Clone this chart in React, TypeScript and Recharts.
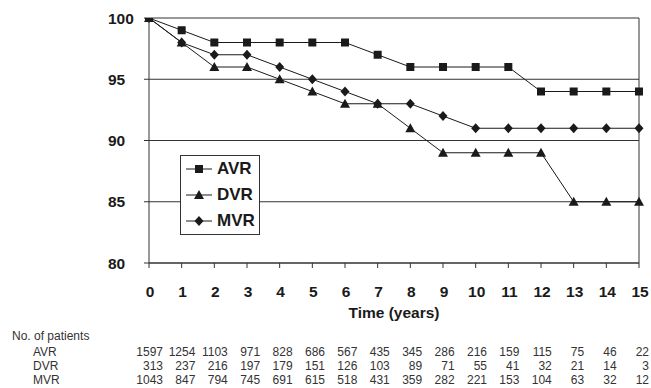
import React from 'react';
import { LineChart, Line, XAxis, YAxis, CartesianGrid, Legend, ReferenceLine } from 'recharts';

const years = [0, 1, 2, 3, 4, 5, 6, 7, 8, 9, 10, 11, 12, 13, 14, 15];
const avr = [100, 99, 98, 98, 98, 98, 98, 97, 96, 96, 96, 96, 94, 94, 94, 94];
const dvr = [100, 98, 96, 96, 95, 94, 93, 93, 91, 89, 89, 89, 89, 85, 85, 85];
const mvr = [100, 98, 97, 97, 96, 95, 94, 93, 93, 92, 91, 91, 91, 91, 91, 91];
const avrPatients = [1597, 1254, 1103, 971, 828, 686, 567, 435, 345, 286, 216, 159, 115, 75, 46, 22];
const dvrPatients = [313, 237, 216, 197, 179, 151, 126, 103, 89, 71, 55, 41, 32, 21, 14, 3];
const mvrPatients = [1043, 847, 794, 745, 691, 615, 518, 431, 359, 282, 221, 153, 104, 63, 32, 12];
const yTicks = [80, 85, 90, 95, 100];
const seriesNames = ['AVR', 'DVR', 'MVR'];
const rowLabels = ['AVR', 'DVR', 'MVR'];

const data = years.map((t, i) => ({ t, AVR: avr[i], DVR: dvr[i], MVR: mvr[i] }));
const patientRows = [avrPatients, dvrPatients, mvrPatients];

const FONT = '"Liberation Sans", Arial, sans-serif';
const INK = '#1a1a1a';

const Square = ({ cx, cy }: any) => <rect x={cx - 4} y={cy - 4} width={8} height={8} fill={INK} />;
const Triangle = ({ cx, cy }: any) => (
  <polygon points={`${cx},${cy - 5} ${cx + 5},${cy + 4} ${cx - 5},${cy + 4}`} fill={INK} />
);
const Diamond = ({ cx, cy }: any) => (
  <polygon points={`${cx},${cy - 5} ${cx + 4.5},${cy} ${cx},${cy + 5} ${cx - 4.5},${cy}`} fill={INK} />
);
const shapes: any = { AVR: Square, DVR: Triangle, MVR: Diamond };

const XTick = (props: any) => {
  const { x, y, payload, index } = props;
  return (
    <g>
      <text x={x + 1} y={y + 27} textAnchor="middle" fontFamily={FONT} fontWeight="bold" fontSize={15.5} fill={INK}>
        {payload.value}
      </text>
      {patientRows.map((row, r) => (
        <text
          key={r}
          x={x + 14 - (index * 4) / 15}
          y={y + 86 + r * 14}
          textAnchor="end"
          fontFamily={FONT}
          fontSize={12}
          fill="#333"
        >
          {row[index]}
        </text>
      ))}
    </g>
  );
};

const YTick = (props: any) => {
  const { x, y, payload } = props;
  return (
    <text x={x - 34} y={y + 5.5} textAnchor="start" fontFamily={FONT} fontWeight="bold" fontSize={15.5} fill={INK}>
      {payload.value}
    </text>
  );
};

const XLabel = (props: any) => {
  const vb = props.viewBox || { x: 149, y: 263, width: 490, height: 125 };
  return (
    <g>
      <text x={vb.x + vb.width / 2} y={vb.y + 55} textAnchor="middle" fontFamily={FONT} fontWeight="bold" fontSize={15.5} fill={INK}>
        Time (years)
      </text>
      <text x={vb.x - 137} y={vb.y + 77} fontFamily={FONT} fontSize={12} fill="#333">
        No. of patients
      </text>
      {rowLabels.map((l, r) => (
        <text key={l} x={vb.x - 116} y={vb.y + 93 + r * 14} fontFamily={FONT} fontSize={12} fill="#333">
          {l}
        </text>
      ))}
    </g>
  );
};

const LegendBox = () => (
  <div style={{ width: 78, height: 78, border: '1px solid #333', background: '#fff', boxSizing: 'content-box' }}>
    {seriesNames.map((n) => {
      const S = shapes[n];
      return (
        <div key={n} style={{ display: 'flex', alignItems: 'center', height: 26 }}>
          <svg width={36} height={26} style={{ display: 'block' }}>
            <line x1={5} y1={13} x2={31} y2={13} stroke={INK} strokeWidth={1} />
            <S cx={18} cy={13} />
          </svg>
          <span style={{ fontFamily: FONT, fontWeight: 'bold', fontSize: 17, color: INK, lineHeight: '26px' }}>{n}</span>
        </div>
      );
    })}
  </div>
);

export default function App() {
  return (
    <div style={{ position: 'absolute', left: 0, top: 0, width: 651, height: 388, background: '#fff' }}>
      <LineChart width={651} height={388} data={data} margin={{ top: 18, right: 12, bottom: 0, left: 0 }}>
        <CartesianGrid horizontal vertical={false} stroke="#333" strokeWidth={1} />
        <ReferenceLine x={15} stroke="#333" strokeWidth={1} ifOverflow="visible" />
        <XAxis
          dataKey="t"
          type="number"
          domain={[0, 15]}
          ticks={years}
          interval={0}
          height={125}
          tickSize={5}
          tickMargin={2}
          stroke="#333"
          tick={<XTick />}
          label={<XLabel />}
        />
        <YAxis
          type="number"
          domain={[80, 100]}
          ticks={yTicks}
          width={149}
          tickSize={5}
          tickMargin={2}
          stroke="#333"
          tick={<YTick />}
          allowDataOverflow
        />
        <Legend
          content={<LegendBox />}
          layout="vertical"
          verticalAlign="middle"
          align="center"
          wrapperStyle={{ left: 180, top: 155, width: 80 }}
        />
        {seriesNames.map((n) => {
          const S = shapes[n];
          return (
            <Line
              key={n}
              type="linear"
              dataKey={n}
              stroke={INK}
              strokeWidth={1}
              dot={(p: any) => <S key={`${n}-${p.index}`} cx={p.cx} cy={p.cy} />}
              activeDot={false}
              isAnimationActive={false}
            />
          );
        })}
      </LineChart>
    </div>
  );
}
